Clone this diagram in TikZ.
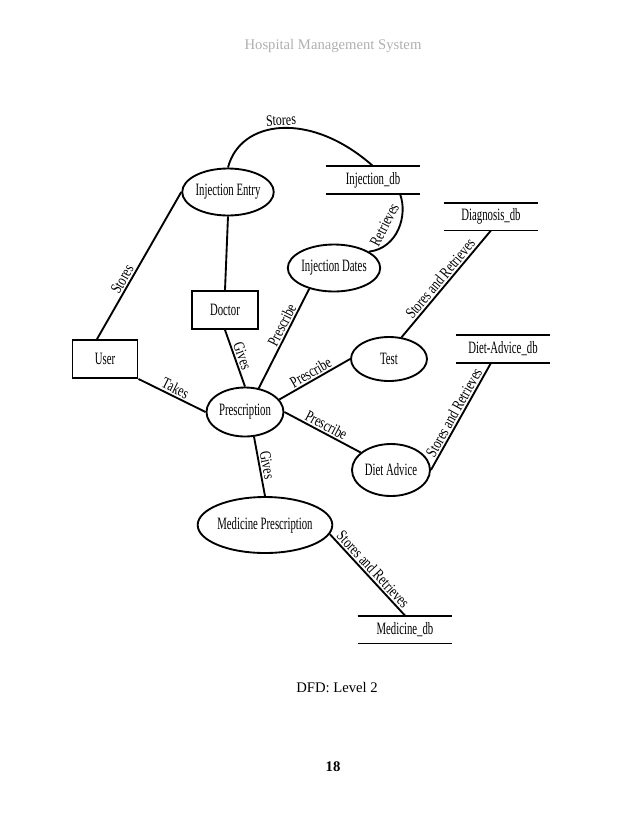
\documentclass[tikz,border=0pt]{standalone}
\usepackage{fontspec}
\setmainfont{Liberation Serif}
\newfontfamily\condfont[FakeStretch=0.62]{Liberation Serif}
\newfontfamily\labfont[FakeStretch=0.75]{Liberation Serif}
\usetikzlibrary{shapes.geometric,calc}
\definecolor{hdrgray}{RGB}{175,175,175}
\begin{document}
\begin{tikzpicture}[x=0.75pt,y=-0.75pt,line width=1.4pt,
  proc/.style={ellipse, draw, inner sep=0pt, font=\condfont\fontsize{13}{15}\selectfont},
  ent/.style={rectangle, draw, inner sep=0pt, font=\condfont\fontsize{13}{15}\selectfont},
  store/.style={inner sep=0pt, minimum width=69.75pt, minimum height=19.5pt,
    font=\condfont\fontsize{13}{15}\selectfont,
    append after command={(\tikzlastnode.north west) edge (\tikzlastnode.north east)
      (\tikzlastnode.south west) edge (\tikzlastnode.south east)}},
  lab/.style={font=\labfont\fontsize{12}{14}\selectfont, sloped, above, inner sep=1.2pt},
  pagetext/.style={font=\fontsize{11}{13}\selectfont, inner sep=0pt}
]
\useasboundingbox (0,0) rectangle (638,826);

% page texts
\node[pagetext, text=hdrgray] (hdr) at (333,46) {Hospital Management System};
\node[pagetext] (cap) at (337,688) {DFD: Level 2};
\node[pagetext, font=\bfseries\fontsize{11}{13}\selectfont] (pg) at (333,767) {18};

% processes
\node[proc, minimum width=58.5pt, minimum height=35.25pt] (ie) at (228,192) {Injection Entry};
\node[proc, minimum width=58.5pt, minimum height=35.25pt] (idt) at (334,268) {Injection Dates};
\node[proc, minimum width=57.75pt, minimum height=36.75pt] (pr) at (245,412) {Prescription};
\node[proc, minimum width=57pt, minimum height=33pt] (test) at (389,359) {Test};
\node[proc, minimum width=58.5pt, minimum height=39pt] (da) at (391,470) {Diet Advice};
\node[proc, minimum width=79.5pt, minimum height=42pt] (mp) at (265,525) {Medicine Prescription};

% entities
\node[ent, minimum width=49.5pt, minimum height=28.5pt] (doc) at (225,310) {Doctor};
\node[ent, minimum width=48.75pt, minimum height=28.5pt] (user) at (105,359) {User};

% data stores
\node[store] (idb) at (373,180) {Injection\_db};
\node[store] (ddb) at (491,216.5) {Diagnosis\_db};
\node[store] (dadb) at (503,349) {Diet-Advice\_db};
\node[store] (mdb) at (405,629.5) {Medicine\_db};

% flows
\draw (ie.north) .. controls (240,120) and (310,110) .. node[lab, pos=0.5] {Stores} (idb.north);
\draw (idt.25) .. controls (398,248) and (408,215) .. node[lab, pos=0.47, above=5pt] {Retrieves} ($(idb.south)+(27,0)$);
\draw ($(user.north)+(-8,0)$) -- node[lab, pos=0.38] {Stores} (ie.west);
\draw (ie.south) -- (doc.north);
\draw (user.south east) -- node[lab, pos=0.5] {Takes} (pr.west);
\draw (doc.south) -- node[lab, pos=0.5] {Gives} (pr.north);
\draw (pr.60) -- node[lab, pos=0.6] {Prescribe} (idt.220);
\draw (pr.20) -- node[lab, pos=0.5] {Prescribe} (test.west);
\draw (pr.east) -- node[lab, pos=0.5] {Prescribe} (da.150);
\draw (test.60) -- node[lab, pos=0.5] {Stores and Retrieves} (ddb.south);
\draw (da.east) -- node[lab, pos=0.5] {Stores and Retrieves} ($(dadb.south)+(-12,0)$);
\draw (pr.-70) -- node[lab, pos=0.5] {Gives} (mp.north);
\draw (mp.-8) -- node[lab, pos=0.5] {Stores and Retrieves} (mdb.north);
\end{tikzpicture}
\end{document}
